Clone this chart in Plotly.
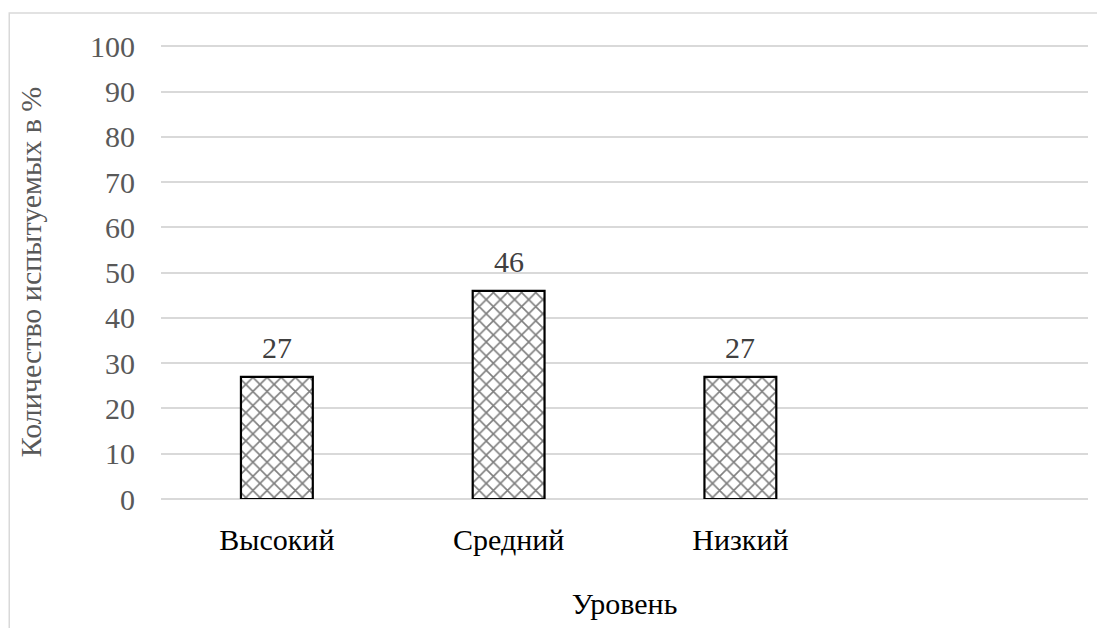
import plotly.graph_objects as go

categories = ["Высокий", "Средний", "Низкий", " "]
values = [27, 46, 27, None]
y_ticks = [0, 10, 20, 30, 40, 50, 60, 70, 80, 90, 100]

font_family = "Liberation Serif, Times New Roman, serif"
FS = 30

fig = go.Figure()
fig.add_trace(go.Bar(
    x=categories,
    y=values,
    cliponaxis=False,
    marker=dict(
        color="white",
        line=dict(color="black", width=2.2),
        pattern=dict(shape="x", fgcolor="black", bgcolor="white", size=10, solidity=0.3, fillmode="overlay"),
    ),
    width=0.31,
))

# data labels above bars
for c, v in zip(categories, values):
    if v is None:
        continue
    fig.add_annotation(x=c, y=v, text=str(v), showarrow=False, yanchor="bottom",
                       yshift=11, font=dict(family=font_family, size=FS, color="#404040"))

# page body adds an 8px offset; margins compensate
fig.update_layout(
    width=1105, height=628,
    margin=dict(l=153, r=25, t=37, b=137),
    paper_bgcolor="white",
    plot_bgcolor="white",
    showlegend=False,
    font=dict(family=font_family, size=FS, color="#595959"),
    shapes=[dict(type="rect", xref="paper", yref="paper",
                 x0=-0.1637, y0=-0.3, x1=1.1, y1=1.0705,
                 line=dict(color="#d9d9d9", width=1.5), fillcolor="rgba(0,0,0,0)", layer="below")],
)
fig.update_xaxes(
    showgrid=False, showline=False, ticks="",
    tickfont=dict(family=font_family, size=FS, color="#000000"),
    title=dict(text="Уровень", font=dict(family=font_family, size=FS, color="#000000"), standoff=37),
    ticklabelstandoff=20,
)
fig.update_yaxes(
    range=[0, 100.3], tickvals=y_ticks,
    showgrid=True, gridcolor="#d9d9d9", gridwidth=1.5,
    zeroline=True, zerolinecolor="#d9d9d9", zerolinewidth=1.5,
    showline=False, ticks="",
    tickfont=dict(family=font_family, size=FS, color="#595959"),
    ticklabelstandoff=25,
    title=dict(text="Количество испытуемых в %", font=dict(family=font_family, size=FS, color="#595959"), standoff=39),
)

fig.write_html("out.html")
